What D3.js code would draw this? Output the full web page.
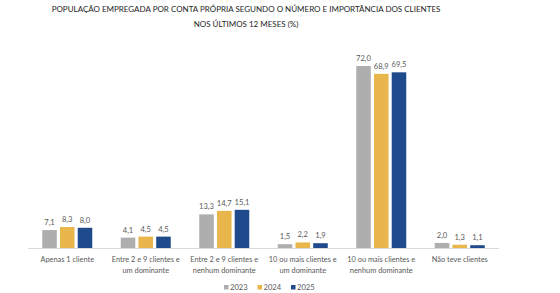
<!DOCTYPE html>
<html>
<head>
<meta charset="utf-8">
<script src="https://cdn.jsdelivr.net/npm/d3@7"></script>
<style>
  body { margin: 0; background: #fff; }
  svg { display: block; font-family: Lato, "Open Sans", sans-serif; }
</style>
</head>
<body>
<div id="chart"></div>
<script>
var categories = [
  ["Apenas 1 cliente"],
  ["Entre 2 e 9 clientes e", "um dominante"],
  ["Entre 2 e 9 clientes e", "nenhum dominante"],
  ["10 ou mais clientes e", "um dominante"],
  ["10 ou mais clientes e", "nenhum dominante"],
  ["Não teve clientes"]
];
var years = ["2023", "2024", "2025"];
var values2023 = [7.1, 4.1, 13.3, 1.5, 72.0, 2.0];
var values2024 = [8.3, 4.5, 14.7, 2.2, 68.9, 1.3];
var values2025 = [8.0, 4.5, 15.1, 1.9, 69.5, 1.1];
var colors = ["#AEAEAE", "#E9B64B", "#1F4B8C"];

var width = 560, height = 293;
var series = [values2023, values2024, values2025];

var svg = d3.select("#chart").append("svg")
    .attr("width", width)
    .attr("height", height);

// title
svg.append("text")
    .attr("x", 246).attr("y", 12)
    .attr("text-anchor", "middle")
    .attr("font-size", "8px")
    .attr("fill", "#262626")
    .text("POPULAÇÃO EMPREGADA POR CONTA PRÓPRIA SEGUNDO O NÚMERO E IMPORTÂNCIA DOS CLIENTES");
svg.append("text")
    .attr("x", 246).attr("y", 27)
    .attr("text-anchor", "middle")
    .attr("font-size", "8px")
    .attr("fill", "#262626")
    .text("NOS ÚLTIMOS 12 MESES (%)");

var x = d3.scaleBand()
    .domain(d3.range(categories.length))
    .range([28, 499]);

var xi = d3.scaleBand()
    .domain(years)
    .range([0, 50])
    .paddingInner(0.18);

var y = d3.scaleLinear()
    .domain([0, 72])
    .range([248, 66]);

var groups = svg.selectAll("g.grp")
    .data(categories).enter()
    .append("g")
    .attr("class", "grp")
    .attr("transform", function(d, i){ return "translate(" + (x(i) + x.bandwidth() / 2 - 25) + ",0)"; });

years.forEach(function(yr, s){
    groups.append("rect")
        .attr("x", xi(yr))
        .attr("y", function(d, i){ return y(series[s][i]); })
        .attr("width", xi.bandwidth())
        .attr("height", function(d, i){ return 248 - y(series[s][i]); })
        .attr("fill", colors[s]);

    groups.append("text")
        .attr("x", xi(yr) + xi.bandwidth() / 2)
        .attr("y", function(d, i){ return y(series[s][i]) - 5; })
        .attr("text-anchor", "middle")
        .attr("font-size", "7.6px")
        .attr("fill", "#595959")
        .text(function(d, i){ return d3.format(".1f")(series[s][i]).replace(".", ","); });
});

// baseline
svg.append("line")
    .attr("x1", 28).attr("x2", 499)
    .attr("y1", 248.5).attr("y2", 248.5)
    .attr("stroke", "#D9D9D9")
    .attr("stroke-width", 1);

// category labels
groups.each(function(d, i){
    var g = d3.select(this);
    d.forEach(function(line, k){
        g.append("text")
            .attr("x", 25)
            .attr("y", 262 + k * 11)
            .attr("text-anchor", "middle")
            .attr("font-size", "7.4px")
            .attr("fill", "#595959")
            .text(line);
    });
});

// legend
var legend = svg.append("g").attr("transform", "translate(224,290)");
years.forEach(function(yr, s){
    var lg = legend.append("g").attr("transform", "translate(" + (s * 33.5) + ",0)");
    lg.append("rect")
        .attr("x", 0).attr("y", -5)
        .attr("width", 4.5).attr("height", 4.5)
        .attr("fill", colors[s]);
    lg.append("text")
        .attr("x", 6).attr("y", 0)
        .attr("font-size", "7.6px")
        .attr("fill", "#595959")
        .text(yr);
});
</script>
</body>
</html>
